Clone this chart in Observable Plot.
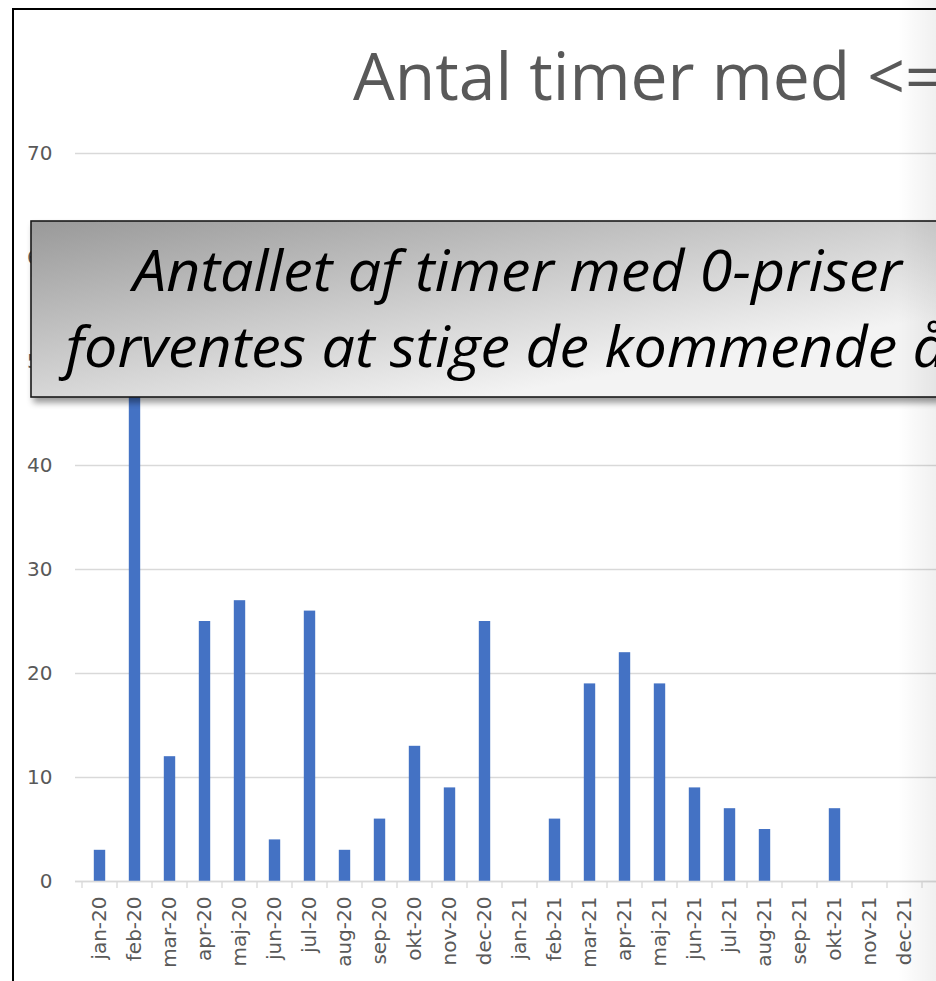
<!DOCTYPE html>
<html>
<head>
<meta charset="utf-8">
<script src="https://cdn.jsdelivr.net/npm/d3@7"></script>
<script src="https://cdn.jsdelivr.net/npm/@observablehq/plot@0.6"></script>
<style>
  html, body { margin: 0; padding: 0; background: #fff; overflow: hidden; width: 936px; height: 981px; }
  #stage { position: relative; width: 936px; height: 981px; overflow: hidden; font-family: "Open Sans", sans-serif; }
  #frame { position: absolute; left: 12px; top: 8px; width: 1200px; height: 1200px; border: 2px solid #000; box-sizing: border-box; }
  #chart { position: absolute; left: 0; top: 0; }
  #chart svg text { font-size: 20px !important; fill: #595959; font-family: "DejaVu Sans", sans-serif; }
  #overlay { position: absolute; left: 0; top: 0; }
  #fade { position: absolute; left: 898px; top: 0; width: 38px; height: 981px; pointer-events: none;
          background: linear-gradient(to right, rgba(0,0,0,0), rgba(0,0,0,0.06)); }
</style>
</head>
<body>
<div id="stage">
  <div id="frame"></div>
  <div id="chart"></div>
  <svg id="overlay" width="936" height="981" xmlns="http://www.w3.org/2000/svg"></svg>
  <div id="fade"></div>
</div>
<script>
// ---- data ----
const months = ["jan-20","feb-20","mar-20","apr-20","maj-20","jun-20","jul-20","aug-20","sep-20","okt-20","nov-20","dec-20",
                "jan-21","feb-21","mar-21","apr-21","maj-21","jun-21","jul-21","aug-21","sep-21","okt-21","nov-21","dec-21"];
const hours  = [3, 58, 12, 25, 27, 4, 26, 3, 6, 13, 9, 25,
                0, 6, 19, 22, 19, 9, 7, 5, 0, 7, 0, 0];
const yTicks = [0, 10, 20, 30, 40, 50, 60, 70];
const titleText = "Antal timer med <=";
const calloutLines = ["Antallet af timer med 0-priser", "forventes at stige de kommende år"];

const data = months.map((m, i) => ({month: m, hours: hours[i]}));

// boundary ticks below the category axis (between categories)
function boundaryTicks(index, scales) {
  const x = scales.x, y = scales.y;
  const step = x(months[1]) - x(months[0]);
  const xs = months.map(m => x(m)).concat([x(months[months.length - 1]) + step]);
  const y0 = y(0);
  const g = d3.create("svg:g");
  g.selectAll("line").data(xs).join("line")
    .attr("x1", d => d).attr("x2", d => d)
    .attr("y1", y0).attr("y2", y0 + 7)
    .attr("stroke", "#d9d9d9").attr("stroke-width", 1.3);
  return g.node();
}

const chart = Plot.plot({
  width: 936,
  height: 981,
  marginLeft: 75,
  marginRight: 0,
  marginTop: 153,
  marginBottom: 100,
  style: {fontFamily: "'DejaVu Sans', sans-serif", fontSize: "20px", color: "#595959", background: "transparent", overflow: "visible"},
  x: {domain: months, range: [74.6, 929], padding: 0, label: null},
  y: {domain: [0, 70], label: null},
  marks: [
    Plot.gridY(yTicks, {stroke: "#d9d9d9", strokeOpacity: 1, strokeWidth: 1.3}),
    Plot.barY(data, {x: "month", y: "hours", fill: "#4472c4", insetLeft: 11.8, insetRight: 11.8}),
    Plot.ruleY([0], {stroke: "#d9d9d9", strokeWidth: 1.3}),
    boundaryTicks,
    Plot.axisY(yTicks, {tickSize: 0, tickPadding: 23, fill: "#595959", fontSize: 20, label: null}),
    Plot.axisX(months, {tickSize: 0, tickPadding: 15, tickRotate: -90, fill: "#595959", fontSize: 20, label: null})
  ]
});
document.getElementById("chart").appendChild(chart);

// ---- title and callout overlay ----
const ov = d3.select("#overlay");
const defs = ov.append("defs");
const grad = defs.append("linearGradient").attr("id", "boxgrad")
  .attr("gradientUnits", "userSpaceOnUse")
  .attr("x1", 31).attr("y1", 221).attr("x2", 75).attr("y2", 470);
grad.append("stop").attr("offset", "0%").attr("stop-color", "#999999");
grad.append("stop").attr("offset", "100%").attr("stop-color", "#f3f3f3");
const filt = defs.append("filter").attr("id", "shadow").attr("x", "-5%").attr("y", "-10%").attr("width", "120%").attr("height", "130%");
filt.append("feDropShadow").attr("dx", 3).attr("dy", 5).attr("stdDeviation", 3).attr("flood-color", "#000").attr("flood-opacity", 0.4);

ov.append("text")
  .attr("x", 353).attr("y", 100)
  .attr("font-family", "'Open Sans', sans-serif")
  .attr("font-size", 66).attr("font-weight", 400)
  .attr("fill", "#595959")
  .style("white-space", "pre")
  .text(titleText);

ov.append("rect")
  .attr("x", 31).attr("y", 221).attr("width", 975).attr("height", 176)
  .attr("fill", "url(#boxgrad)")
  .attr("stroke", "#1a1a1a").attr("stroke-width", 1.6)
  .attr("filter", "url(#shadow)");

const cx = 517.5;
const tg = ov.append("g");
const baselines = [291, 367];
calloutLines.forEach((line, i) => {
  tg.append("text")
    .attr("x", cx).attr("y", baselines[i])
    .attr("text-anchor", "middle")
    .attr("font-family", "'Open Sans', sans-serif")
    .attr("font-style", "italic")
    .attr("font-size", 56)
    .attr("fill", "#000")
    .text(line);
});
const w1 = tg.select("text").node().getComputedTextLength();
const s = w1 > 0 ? 769 / w1 : 1;
tg.attr("transform", `translate(${cx},0) scale(${s},1) translate(${-cx},0)`);
</script>
</body>
</html>
